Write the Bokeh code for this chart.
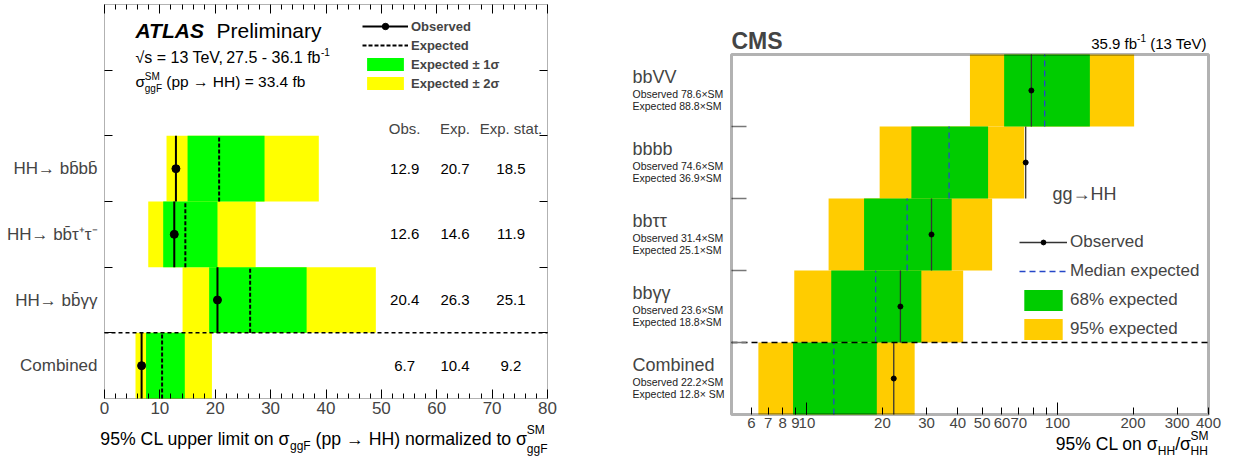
import math
from bokeh.plotting import figure
from bokeh.layouts import row
from bokeh.models import (FixedTicker, LinearAxis, Label, Legend, LegendItem,
                          ColumnDataSource, Range1d, BoxAnnotation)
from bokeh.core.properties import value
from bokeh.embed import file_html
from bokeh.resources import INLINE

FONT = "Liberation Sans"

# ---------------- ATLAS: linear limits (x SM) ----------------
atlas_channels = ["HH\u2192 bb\u0304bb\u0304", "HH\u2192 bb\u0304\u03c4\u207a\u03c4\u207b",
                  "HH\u2192 bb\u0304\u03b3\u03b3", "Combined"]
atlas_obs = [12.9, 12.6, 20.4, 6.7]
atlas_exp = [20.7, 14.6, 26.3, 10.4]
atlas_exp_stat = [18.5, 11.9, 25.1, 9.2]
atlas_m2 = [11.2, 7.9, 14.1, 5.6]
atlas_m1 = [15.0, 10.6, 18.9, 7.5]
atlas_p1 = [28.9, 20.4, 36.5, 14.5]
atlas_p2 = [38.7, 27.3, 49.0, 19.4]
atlas_xticks = [0, 10, 20, 30, 40, 50, 60, 70, 80]
atlas_col_heads = ["Obs.", "Exp.", "Exp. stat."]

# ---------------- CMS: log limits (x SM) ----------------
cms_channels = ["bbVV", "bbbb", "bb\u03c4\u03c4", "bb\u03b3\u03b3", "Combined"]
cms_obs = [78.6, 74.6, 31.4, 23.6, 22.2]
cms_exp = [88.8, 36.9, 25.1, 18.8, 12.8]
cms_m2 = [44.7, 19.5, 12.2, 8.9, 6.4]
cms_m1 = [61.2, 26.1, 16.9, 12.5, 8.8]
cms_p1 = [134.5, 52.8, 37.8, 28.6, 19.0]
cms_p2 = [202.0, 73.6, 54.8, 42.0, 26.9]
cms_obs_text = ["Observed 78.6\u00d7SM", "Observed 74.6\u00d7SM", "Observed 31.4\u00d7SM",
                "Observed 23.6\u00d7SM", "Observed 22.2\u00d7SM"]
cms_exp_text = ["Expected 88.8\u00d7SM", "Expected 36.9\u00d7SM", "Expected 25.1\u00d7SM",
                "Expected 18.8\u00d7SM", "Expected 12.8\u00d7 SM"]
cms_tick_values = [6, 7, 8, 9, 10, 20, 30, 40, 50, 60, 70, 80, 90, 100, 200, 300, 400]
cms_tick_labels = ["6", "7", "8", "9", "10", "20", "30", "40", "50", "60", "70", "", "",
                   "100", "200", "300", "400"]

# Helvetica/Arial advance widths (1/1000 em) for laying out composite labels
REG = {' ': 278, '%': 889, '(': 333, ')': 333, ',': 278, '-': 333, '.': 278, '/': 278,
       '=': 584, '+': 584, 'A': 667, 'C': 722, 'E': 667, 'F': 611, 'H': 722, 'L': 556,
       'M': 833, 'O': 778, 'P': 667, 'S': 667, 'T': 611, 'V': 667,
       'a': 556, 'b': 556, 'c': 500, 'd': 556, 'e': 556, 'f': 278, 'g': 556, 'h': 556,
       'i': 222, 'l': 222, 'm': 833, 'n': 556, 'o': 556, 'p': 556, 'r': 333, 's': 500,
       't': 278, 'u': 556, 'v': 500, 'x': 500, 'y': 500, 'z': 500,
       '\u03c3': 600, '\u2192': 1000, '\u221a': 549, '\u00d7': 584, '\u00b1': 584,
       '\u0304': 0}
BOLD = {'A': 722, 'C': 722, 'L': 611, 'M': 833, 'S': 667, 'T': 611}
for _d in "0123456789":
    REG[_d] = 556


def text_width(s, size, style="normal"):
    tbl = BOLD if "bold" in style else REG
    return sum(tbl.get(c, REG.get(c, 556)) for c in s) * size / 1000.0


def run_text(fig, groups, x_px, y_px, xconv, yconv, align="left"):
    """Lay out consecutive text groups; items of one group share an x (sub/superscripts)."""
    widths = [max(text_width(t, s, st) for t, s, dy, st in g) for g in groups]
    if align == "right":
        x_px -= sum(widths)
    for g, w in zip(groups, widths):
        for t, s, dy, st in g:
            lead = text_width(t[:len(t) - len(t.lstrip(" "))], s, st)
            fig.add_layout(Label(x=xconv(x_px + lead), y=yconv(y_px + dy), text=t.strip(),
                                 text_font=FONT, text_font_size=f"{s}px",
                                 text_font_style=st, text_baseline="middle",
                                 text_align="left", text_color="black"))
        x_px += w


def put_text(fig, text, x_px, y_px, xconv, yconv, size, align="left", style="normal"):
    fig.add_layout(Label(x=xconv(x_px), y=yconv(y_px), text=text, text_font=FONT,
                         text_font_size=f"{size}px", text_font_style=style,
                         text_baseline="middle", text_align=align, text_color="black"))


def hidden_labels(axis, ticks):
    axis.major_label_overrides = {t: "" for t in ticks}
    axis.major_label_text_font_size = "0px"
    axis.major_label_standoff = 0


# ===================== ATLAS panel =====================
AW, AH = 600, 458
AX0, AX1, AY0, AY1 = 104, 547, 4, 398          # plot box inside the canvas (px)
A_XMIN, A_XMAX, A_YMIN, A_YMAX = 0.0, 80.0, 0.0, 6.0
a_sx = (AX1 - AX0) / (A_XMAX - A_XMIN)
a_sy = (AY1 - AY0) / (A_YMAX - A_YMIN)


def ax_d(px):
    return A_XMIN + (px - AX0) / a_sx


def ay_d(py):
    return A_YMIN + (AY1 - py) / a_sy


p1 = figure(width=AW, height=AH,
            x_range=Range1d(ax_d(0), ax_d(AW)), y_range=Range1d(ay_d(AH), ay_d(0)),
            output_backend="svg", toolbar_location=None, min_border=0)
p1.title.visible = False
p1.grid.visible = False
p1.outline_line_color = None
p1.background_fill_color = "white"
p1.border_fill_color = "white"

a_rows = [3 - i for i in range(len(atlas_channels))]
asrc = ColumnDataSource(dict(
    row=a_rows, top=[r + 1 for r in a_rows], mid=[r + 0.5 for r in a_rows],
    obs=atlas_obs, exp=atlas_exp, m2=atlas_m2, m1=atlas_m1, p1=atlas_p1, p2=atlas_p2,
    obs_t=[f"{v:.1f}" for v in atlas_obs], exp_t=[f"{v:.1f}" for v in atlas_exp],
    stat_t=[f"{v:.1f}" for v in atlas_exp_stat]))

a_yel = p1.quad(left="m2", right="p2", bottom="row", top="top", source=asrc,
                fill_color="#ffff00", line_color=None)
a_grn = p1.quad(left="m1", right="p1", bottom="row", top="top", source=asrc,
                fill_color="#00ff00", line_color=None)
a_exp = p1.segment(x0="exp", y0="row", x1="exp", y1="top", source=asrc,
                   line_color="black", line_width=2, line_dash="4 2")
a_obs = p1.segment(x0="obs", y0="row", x1="obs", y1="top", source=asrc,
                   line_color="black", line_width=2)
a_dot = p1.scatter(x="obs", y="mid", source=asrc, size=8, marker="circle",
                   fill_color="black", line_color="black")

# separator between single channels and the combination
a_sep = a_rows[-1] + 1
p1.segment(x0=[A_XMIN], y0=[a_sep], x1=[A_XMAX], y1=[a_sep], line_color="black",
           line_width=1.5, line_dash="4 3")
p1.add_layout(BoxAnnotation(left=A_XMIN, right=A_XMAX, bottom=A_YMIN, top=A_YMAX,
                            fill_color=None, line_color="black", line_width=1))

# value columns
col_x = [54.2, 63.3, 73.4]
for cx, key in zip(col_x, ["obs_t", "exp_t", "stat_t"]):
    p1.text(x=cx, y="mid", text=key, source=asrc, text_align="center",
            text_baseline="middle", text_font=value(FONT), text_font_size="15px",
            text_color="black")
for cx, head in zip(col_x, atlas_col_heads):
    p1.add_layout(Label(x=cx, y=ay_d(128), text=head, text_align="center",
                        text_baseline="middle", text_font=FONT, text_font_size="15px"))

# channel labels
for name, r in zip(atlas_channels, a_rows):
    p1.add_layout(Label(x=ax_d(97), y=r + 0.5, text=name, text_align="right",
                        text_baseline="middle", text_font=FONT, text_font_size="17px"))

# axes drawn on the plot box
minor = [v for v in range(2, 80, 2) if v % 10]
xa = p1.xaxis[0]
xa.fixed_location = A_YMIN
xa.ticker = FixedTicker(ticks=atlas_xticks, minor_ticks=minor)
xa.major_label_overrides = {t: str(t) for t in atlas_xticks}
xa.major_tick_in, xa.major_tick_out = 9, 0
xa.minor_tick_in, xa.minor_tick_out = 5, 0
xa.major_label_text_font = FONT
xa.major_label_text_font_size = "17px"
xa.major_label_standoff = 3
xa.axis_line_color = None

ya = p1.yaxis[0]
ya.fixed_location = A_XMIN
ya.ticker = FixedTicker(ticks=[1, 2, 3, 4, 5])
hidden_labels(ya, [1, 2, 3, 4, 5])
ya.major_tick_in, ya.major_tick_out = 8, 0
ya.minor_tick_line_color = None
ya.axis_line_color = None

top_ax = LinearAxis(fixed_location=A_YMAX,
                    ticker=FixedTicker(ticks=atlas_xticks, minor_ticks=minor),
                    major_tick_in=9, major_tick_out=0, minor_tick_in=5, minor_tick_out=0,
                    axis_line_color=None)
hidden_labels(top_ax, atlas_xticks)
p1.add_layout(top_ax, "above")
right_ax = LinearAxis(fixed_location=A_XMAX, ticker=FixedTicker(ticks=[1, 2, 3, 4, 5]),
                      major_tick_in=8, major_tick_out=0, minor_tick_line_color=None,
                      axis_line_color=None)
hidden_labels(right_ax, [1, 2, 3, 4, 5])
p1.add_layout(right_ax, "right")

# x-axis title
run_text(p1, [[("95% CL upper limit on \u03c3", 17.7, 0, "normal")],
              [("ggF", 12, 7, "normal")],
              [(" (pp \u2192 HH) normalized to \u03c3", 17.7, 0, "normal")],
              [("SM", 12, -9, "normal"), ("ggF", 12, 10, "normal")]],
         AX1, 438, ax_d, ay_d, align="right")

# experiment label and info
atlas_w = text_width("ATLAS", 21, "bold")
put_text(p1, "ATLAS", 135, 30, ax_d, ay_d, 21, style="bold italic")
put_text(p1, "Preliminary", 135 + atlas_w + 11, 30, ax_d, ay_d, 21)
put_text(p1, "\u221as = 13 TeV,", 135, 57, ax_d, ay_d, 16)
put_text(p1, "27.5 - 36.1 fb", 320, 57, ax_d, ay_d, 16, align="right")
put_text(p1, "-1", 320.5, 51, ax_d, ay_d, 10)
run_text(p1, [[("\u03c3", 15.5, 0, "normal")],
              [("SM", 10, -5, "normal"), ("ggF", 10, 7, "normal")],
              [(" (pp \u2192 HH) = 33.4 fb", 15.5, 0, "normal")]], 135, 81, ax_d, ay_d)

leg1 = Legend(items=[LegendItem(label="Observed", renderers=[a_obs, a_dot]),
                     LegendItem(label="Expected", renderers=[a_exp]),
                     LegendItem(label="Expected \u00b1 1\u03c3", renderers=[a_grn]),
                     LegendItem(label="Expected \u00b1 2\u03c3", renderers=[a_yel])],
              location=(362, AH - 91), glyph_width=46, glyph_height=16, label_height=16,
              spacing=3, padding=0, margin=0, label_standoff=3,
              border_line_alpha=0, background_fill_alpha=0,
              label_text_font=FONT, label_text_font_size="13px",
              label_text_font_style="bold")
p1.add_layout(leg1)

# ===================== CMS panel =====================
CW, CH = 634, 458
CX0, CX1, CY0, CY1 = 131, 608, 54, 414         # plot box inside the canvas (px)
C_XMIN, C_XMAX, C_YMIN, C_YMAX = 5.0, 400.0, 0.0, 5.0
c_sx = (CX1 - CX0) / (math.log10(C_XMAX) - math.log10(C_XMIN))
c_sy = (CY1 - CY0) / (C_YMAX - C_YMIN)


def cx_d(px):
    return 10 ** (math.log10(C_XMIN) + (px - CX0) / c_sx)


def cy_d(py):
    return C_YMIN + (CY1 - py) / c_sy


p2 = figure(width=CW, height=CH, x_axis_type="log",
            x_range=Range1d(cx_d(0), cx_d(CW)), y_range=Range1d(cy_d(CH), cy_d(0)),
            output_backend="svg", toolbar_location=None, min_border=0)
p2.title.visible = False
p2.grid.visible = False
p2.outline_line_color = None
p2.background_fill_color = "white"
p2.border_fill_color = "white"

c_rows = [4 - i for i in range(len(cms_channels))]
csrc = ColumnDataSource(dict(
    row=c_rows, top=[r + 1 for r in c_rows], mid=[r + 0.5 for r in c_rows],
    obs=cms_obs, exp=cms_exp, m2=cms_m2, m1=cms_m1, p1=cms_p1, p2=cms_p2))

c_yel = p2.quad(left="m2", right="p2", bottom="row", top="top", source=csrc,
                fill_color="#ffcc00", line_color=None)
c_grn = p2.quad(left="m1", right="p1", bottom="row", top="top", source=csrc,
                fill_color="#00cc00", line_color=None)
c_exp = p2.segment(x0="exp", y0="row", x1="exp", y1="top", source=csrc,
                   line_color="#2547c8", line_width=1.3, line_dash="6 4")
c_obs = p2.segment(x0="obs", y0="row", x1="obs", y1="top", source=csrc,
                   line_color="#333333", line_width=1.3)
c_dot = p2.scatter(x="obs", y="mid", source=csrc, size=5, marker="circle",
                   fill_color="black", line_color="black")

c_sep = c_rows[-1] + 1
p2.segment(x0=[C_XMIN], y0=[c_sep], x1=[C_XMAX], y1=[c_sep], line_color="black",
           line_width=1.5, line_dash="6 4")
p2.add_layout(BoxAnnotation(left=C_XMIN, right=C_XMAX, bottom=C_YMIN, top=C_YMAX,
                            fill_color=None, line_color="black", line_width=3))

cxa = p2.xaxis[0]
cxa.fixed_location = C_YMIN
cxa.ticker = FixedTicker(ticks=cms_tick_values, minor_ticks=[10, 100])
cxa.major_label_overrides = dict(zip(cms_tick_values, cms_tick_labels))
cxa.major_tick_in, cxa.major_tick_out = 7, 0
cxa.minor_tick_in, cxa.minor_tick_out = 12, 0
cxa.major_label_text_font = FONT
cxa.major_label_text_font_size = "15px"
cxa.major_label_standoff = 3
cxa.axis_line_color = None

cya = p2.yaxis[0]
cya.fixed_location = C_XMIN
cya.ticker = FixedTicker(ticks=[1, 2, 3, 4])
hidden_labels(cya, [1, 2, 3, 4])
cya.major_tick_in, cya.major_tick_out = 15, 0
cya.major_tick_line_color = "#777777"
cya.major_tick_line_width = 1.5
cya.minor_tick_line_color = None
cya.axis_line_color = None

# channel labels left of the plot box
lab_x = cx_d(32)
for name, ot, et, r in zip(cms_channels, cms_obs_text, cms_exp_text, c_rows):
    p2.add_layout(Label(x=lab_x, y=r + 0.5 + 14 / c_sy, text=name, text_font=FONT,
                        text_font_size="18px", text_baseline="middle"))
    p2.add_layout(Label(x=lab_x, y=r + 0.5 - 3 / c_sy, text=ot, text_font=FONT,
                        text_font_size="10.5px", text_baseline="middle",
                        text_color="#222222"))
    p2.add_layout(Label(x=lab_x, y=r + 0.5 - 15 / c_sy, text=et, text_font=FONT,
                        text_font_size="10.5px", text_baseline="middle",
                        text_color="#222222"))

p2.add_layout(Label(x=C_XMIN, y=cy_d(40), text="CMS", text_font=FONT,
                    text_font_size="23px", text_font_style="bold", text_baseline="middle"))
run_text(p2, [[("35.9 fb", 15, 0, "normal")], [("-1", 10, -6, "normal")],
              [(" (13 TeV)", 15, 0, "normal")]], CX1, 43, cx_d, cy_d, align="right")
p2.add_layout(Label(x=cx_d(452), y=cy_d(193), text="gg\u2192HH", text_font=FONT,
                    text_font_size="18px", text_baseline="middle"))
run_text(p2, [[("95% CL on \u03c3", 17.5, 0, "normal")], [("HH", 12, 7, "normal")],
              [("/\u03c3", 17.5, 0, "normal")],
              [("SM", 12, -8, "normal"), ("HH", 12, 7, "normal")]],
         CX1, 443, cx_d, cy_d, align="right")

leg_common = dict(glyph_width=48, spacing=3, padding=0, margin=0, label_standoff=3,
                  border_line_alpha=0, background_fill_alpha=0,
                  label_text_font=FONT, label_text_font_size="17px")
leg2a = Legend(items=[LegendItem(label="Observed", renderers=[c_obs, c_dot])],
               location=(419, CH - 252), glyph_height=12, label_height=12, **leg_common)
leg2b = Legend(items=[LegendItem(label="Median expected", renderers=[c_exp]),
                      LegendItem(label="68% expected", renderers=[c_grn]),
                      LegendItem(label="95% expected", renderers=[c_yel])],
               location=(419, CH - 342), glyph_height=26, label_height=26, **leg_common)
p2.add_layout(leg2a)
p2.add_layout(leg2b)

layout = row(p1, p2)
open("out.html", "w").write(file_html(layout, INLINE))
